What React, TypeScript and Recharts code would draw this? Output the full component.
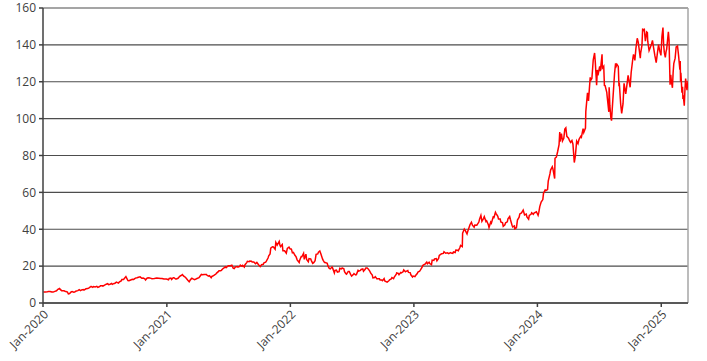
import React from "react";
import { LineChart, Line, XAxis, YAxis, CartesianGrid, ReferenceLine } from "recharts";

const dates: string[] = [
  "2020-01-02","2020-01-08","2020-01-14","2020-01-17","2020-01-22","2020-01-27","2020-01-31","2020-02-05","2020-02-10","2020-02-14","2020-02-19","2020-02-21","2020-02-25","2020-02-28","2020-03-03","2020-03-06","2020-03-11","2020-03-13","2020-03-16","2020-03-18","2020-03-20","2020-03-24","2020-03-27","2020-04-01","2020-04-03","2020-04-08","2020-04-13","2020-04-17","2020-04-21","2020-04-24","2020-04-29","2020-05-01","2020-05-07","2020-05-12","2020-05-15","2020-05-20","2020-05-22","2020-05-27","2020-05-29","2020-06-03","2020-06-08","2020-06-11","2020-06-15","2020-06-19","2020-06-24","2020-06-26","2020-07-01","2020-07-06","2020-07-10","2020-07-13","2020-07-17","2020-07-22","2020-07-24","2020-07-29","2020-07-31","2020-08-05","2020-08-11","2020-08-14","2020-08-19","2020-08-21","2020-08-26","2020-09-02","2020-09-08","2020-09-11","2020-09-16","2020-09-21","2020-09-25","2020-09-30","2020-10-05","2020-10-09","2020-10-14","2020-10-19","2020-10-23","2020-10-28","2020-10-30","2020-11-04","2020-11-09","2020-11-13","2020-11-18","2020-11-25","2020-12-02","2020-12-08","2020-12-14","2020-12-18","2020-12-23","2020-12-31",
  "2021-01-06","2021-01-08","2021-01-13","2021-01-15","2021-01-20","2021-01-22","2021-01-27","2021-01-29","2021-02-03","2021-02-08","2021-02-12","2021-02-16","2021-02-19","2021-02-23","2021-02-26","2021-03-04","2021-03-08","2021-03-12","2021-03-16","2021-03-19","2021-03-24","2021-03-26","2021-03-31","2021-04-06","2021-04-09","2021-04-13","2021-04-16","2021-04-21","2021-04-23","2021-04-28","2021-04-30","2021-05-05","2021-05-07","2021-05-12","2021-05-14","2021-05-19","2021-05-21","2021-05-26","2021-05-28","2021-06-02","2021-06-04","2021-06-09","2021-06-11","2021-06-16","2021-06-18","2021-06-23","2021-06-25","2021-06-30","2021-07-02","2021-07-08","2021-07-12","2021-07-16","2021-07-19","2021-07-23","2021-07-28","2021-07-30","2021-08-04","2021-08-06","2021-08-11","2021-08-13","2021-08-18","2021-08-20","2021-08-25","2021-08-27","2021-09-01","2021-09-03","2021-09-08","2021-09-10","2021-09-15","2021-09-20","2021-09-24","2021-09-29","2021-10-04","2021-10-08","2021-10-13","2021-10-15","2021-10-20","2021-10-22","2021-10-27","2021-10-29","2021-11-02","2021-11-04","2021-11-09","2021-11-12","2021-11-17","2021-11-19","2021-11-23","2021-11-29","2021-12-01","2021-12-03","2021-12-08","2021-12-10","2021-12-15","2021-12-17","2021-12-20","2021-12-23","2021-12-28","2021-12-31",
  "2022-01-04","2022-01-07","2022-01-10","2022-01-14","2022-01-18","2022-01-21","2022-01-27","2022-01-28","2022-02-02","2022-02-04","2022-02-09","2022-02-11","2022-02-16","2022-02-18","2022-02-23","2022-02-25","2022-03-02","2022-03-04","2022-03-08","2022-03-11","2022-03-15","2022-03-18","2022-03-23","2022-03-25","2022-03-29","2022-04-01","2022-04-06","2022-04-08","2022-04-12","2022-04-14","2022-04-20","2022-04-22","2022-04-26","2022-04-29","2022-05-04","2022-05-06","2022-05-11","2022-05-13","2022-05-17","2022-05-20","2022-05-25","2022-05-27","2022-06-01","2022-06-03","2022-06-08","2022-06-10","2022-06-14","2022-06-16","2022-06-21","2022-06-24","2022-06-28","2022-07-01","2022-07-06","2022-07-08","2022-07-13","2022-07-15","2022-07-20","2022-07-22","2022-07-27","2022-07-29","2022-08-03","2022-08-05","2022-08-10","2022-08-12","2022-08-16","2022-08-19","2022-08-24","2022-08-26","2022-08-31","2022-09-02","2022-09-07","2022-09-09","2022-09-14","2022-09-16","2022-09-21","2022-09-23","2022-09-28","2022-09-30","2022-10-05","2022-10-07","2022-10-12","2022-10-14","2022-10-19","2022-10-21","2022-10-26","2022-10-28","2022-11-02","2022-11-04","2022-11-10","2022-11-11","2022-11-16","2022-11-18","2022-11-23","2022-11-25","2022-11-30","2022-12-02","2022-12-07","2022-12-09","2022-12-14","2022-12-16","2022-12-21","2022-12-23","2022-12-28","2022-12-30",
  "2023-01-04","2023-01-06","2023-01-11","2023-01-13","2023-01-18","2023-01-20","2023-01-25","2023-01-27","2023-02-01","2023-02-03","2023-02-08","2023-02-10","2023-02-15","2023-02-17","2023-02-22","2023-02-24","2023-03-01","2023-03-03","2023-03-08","2023-03-10","2023-03-15","2023-03-17","2023-03-22","2023-03-24","2023-03-29","2023-03-31","2023-04-05","2023-04-10","2023-04-14","2023-04-19","2023-04-21","2023-04-26","2023-04-28","2023-05-03","2023-05-05","2023-05-10","2023-05-12","2023-05-17","2023-05-19","2023-05-24","2023-05-25","2023-05-30","2023-06-02","2023-06-07","2023-06-09","2023-06-13","2023-06-16","2023-06-20","2023-06-23","2023-06-28","2023-06-30","2023-07-06","2023-07-07","2023-07-12","2023-07-14","2023-07-18","2023-07-21","2023-07-26","2023-07-28","2023-08-02","2023-08-04","2023-08-09","2023-08-11","2023-08-16","2023-08-18","2023-08-24","2023-08-25","2023-08-30","2023-09-01","2023-09-06","2023-09-08","2023-09-13","2023-09-15","2023-09-20","2023-09-22","2023-09-27","2023-09-29","2023-10-04","2023-10-06","2023-10-11","2023-10-13","2023-10-18","2023-10-20","2023-10-25","2023-10-26","2023-10-31","2023-11-03","2023-11-08","2023-11-10","2023-11-15","2023-11-20","2023-11-24","2023-11-29","2023-12-01","2023-12-06","2023-12-08","2023-12-13","2023-12-15","2023-12-20","2023-12-22","2023-12-29",
  "2024-01-03","2024-01-05","2024-01-08","2024-01-12","2024-01-17","2024-01-19","2024-01-24","2024-01-26","2024-01-31","2024-02-02","2024-02-07","2024-02-09","2024-02-14","2024-02-16","2024-02-21","2024-02-22","2024-02-26","2024-03-01","2024-03-05","2024-03-07","2024-03-08","2024-03-12","2024-03-15","2024-03-19","2024-03-22","2024-03-25","2024-03-28","2024-04-02","2024-04-05","2024-04-08","2024-04-12","2024-04-15","2024-04-19","2024-04-22","2024-04-26","2024-04-30","2024-05-03","2024-05-08","2024-05-10","2024-05-15","2024-05-17","2024-05-22","2024-05-23","2024-05-28","2024-05-31","2024-06-05","2024-06-07","2024-06-10","2024-06-14","2024-06-18","2024-06-20","2024-06-24","2024-06-26","2024-06-28","2024-07-03","2024-07-05","2024-07-10","2024-07-11","2024-07-15","2024-07-17","2024-07-19","2024-07-24","2024-07-25","2024-07-30","2024-07-31","2024-08-02","2024-08-05","2024-08-07","2024-08-09","2024-08-13","2024-08-16","2024-08-19","2024-08-21","2024-08-23","2024-08-27","2024-08-29","2024-08-30","2024-09-03","2024-09-06","2024-09-10","2024-09-13","2024-09-18","2024-09-20","2024-09-25","2024-09-27","2024-10-01","2024-10-04","2024-10-09","2024-10-11","2024-10-15","2024-10-18","2024-10-22","2024-10-25","2024-10-31","2024-11-01","2024-11-05","2024-11-07","2024-11-08","2024-11-12","2024-11-15","2024-11-19","2024-11-21","2024-11-22","2024-11-26","2024-11-29","2024-12-03","2024-12-06","2024-12-09","2024-12-13","2024-12-17","2024-12-20","2024-12-24","2024-12-27","2024-12-31",
  "2025-01-03","2025-01-06","2025-01-08","2025-01-10","2025-01-13","2025-01-15","2025-01-17","2025-01-22","2025-01-24","2025-01-27","2025-01-29","2025-01-31","2025-02-03","2025-02-05","2025-02-07","2025-02-11","2025-02-14","2025-02-18","2025-02-21","2025-02-25","2025-02-26","2025-02-27","2025-02-28","2025-03-03","2025-03-05","2025-03-06","2025-03-07","2025-03-10","2025-03-12","2025-03-14","2025-03-18","2025-03-19","2025-03-20","2025-03-21"
];

const prices: number[] = [
  5.99,6.03,6.14,6.26,6.22,5.93,5.91,6.3,6.6,7.4,7.85,7.38,6.7,6.7,6.6,6.38,6.1,6.0,4.9,4.97,5.17,6.0,6.2,5.8,5.9,6.5,6.7,7.2,6.7,7.08,7.3,7.0,7.7,7.8,8.1,8.7,9.0,8.5,8.9,8.7,9.0,8.5,8.8,9.3,9.3,9.1,9.7,10.2,10.5,10.0,10.2,10.6,10.1,10.6,10.6,11.3,10.8,11.5,12.0,12.7,12.7,14.3,12.2,12.1,12.5,12.9,12.8,13.5,13.7,14.0,14.2,13.4,13.5,13.1,12.5,13.6,13.7,13.5,13.2,13.3,13.5,13.4,13.3,13.3,13.0,13.05,
  12.6,13.3,13.5,12.8,13.7,13.7,13.0,13.0,13.4,14.5,14.9,15.4,14.7,14.2,13.7,12.3,11.55,12.7,13.4,13.1,12.6,12.8,13.3,13.7,14.5,15.5,15.3,15.5,15.5,15.5,15.0,14.6,14.8,13.7,14.4,14.8,15.1,15.7,16.2,17.0,17.5,17.5,17.7,18.7,18.9,19.6,19.2,20.0,20.2,20.2,20.5,18.9,18.7,19.6,19.8,19.5,19.8,20.5,19.9,20.4,19.5,20.8,21.9,22.6,22.4,22.8,22.7,22.3,22.3,21.3,22.0,20.8,19.8,20.8,21.0,21.8,22.2,22.7,24.4,25.6,26.6,29.8,30.5,30.4,29.2,32.9,31.4,33.4,31.4,30.6,31.7,28.3,28.3,27.8,27.0,29.6,30.3,29.4,
  29.2,27.2,27.4,26.0,25.0,23.4,22.0,22.9,25.2,25.1,26.9,23.7,26.5,23.6,22.4,24.1,23.9,23.0,21.5,21.9,22.9,26.4,26.6,27.6,28.2,26.7,23.9,23.1,21.9,21.9,21.5,20.1,18.8,18.5,19.5,18.9,16.3,17.7,17.8,16.7,17.0,18.8,18.5,19.0,18.6,17.0,15.9,15.6,17.1,17.1,15.5,14.6,15.4,15.9,15.2,15.4,17.7,17.3,17.7,18.2,18.5,17.2,18.3,19.0,19.0,18.5,17.2,16.3,15.1,13.6,13.8,14.3,13.1,13.2,13.2,12.5,12.5,12.1,13.2,12.0,11.5,11.3,12.1,12.5,13.0,13.8,13.2,14.1,15.7,16.3,16.0,15.4,16.5,16.3,16.9,17.9,16.9,17.2,17.6,16.6,16.5,15.3,14.1,14.6,
  14.3,14.9,16.0,16.8,17.3,17.8,19.3,20.3,20.9,21.1,22.2,21.3,22.1,21.4,20.8,23.3,23.1,23.9,24.1,22.9,24.2,25.8,26.5,26.7,26.9,27.8,27.0,27.2,26.8,27.3,27.1,26.9,27.7,27.4,28.7,28.6,28.3,30.1,31.2,30.6,37.9,40.1,39.3,37.5,38.8,41.0,42.6,43.8,42.2,41.1,42.3,42.2,42.5,43.9,45.5,47.5,44.3,45.9,46.8,44.2,44.6,42.5,40.9,43.9,43.3,47.1,46.0,49.2,48.5,47.0,45.5,45.5,43.9,43.5,41.6,42.4,43.5,44.0,45.7,46.9,45.4,42.2,41.3,41.8,40.3,40.8,45.0,46.5,48.3,48.9,50.4,47.8,48.2,46.7,45.5,47.5,48.1,48.9,48.1,48.8,49.5,
  47.6,49.0,52.3,54.7,56.1,59.5,61.3,61.0,61.5,66.1,70.0,72.1,73.9,72.6,67.5,78.5,79.1,82.3,85.9,92.7,87.5,91.9,87.9,89.4,94.3,95.0,90.4,89.4,88.0,87.1,88.1,86.1,76.2,79.5,87.8,86.4,88.8,90.4,89.9,94.6,92.5,94.9,103.8,114.0,109.6,122.4,120.9,121.8,131.9,135.6,130.8,118.1,126.4,123.5,128.3,125.8,134.9,127.4,128.4,118.0,117.9,114.3,112.3,103.7,117.0,107.3,100.5,98.9,104.8,116.1,124.6,130.0,128.5,129.4,128.3,117.6,119.4,108.0,102.8,108.1,119.1,113.4,116.0,123.5,121.4,117.0,124.9,132.6,134.8,131.6,138.0,143.6,141.5,132.8,135.4,139.9,148.9,147.6,148.3,142.0,147.0,146.7,142.0,136.9,138.3,140.3,142.4,138.8,134.3,130.4,134.7,140.2,137.0,134.3,
  144.5,149.4,140.1,135.9,133.2,136.2,137.7,147.1,142.6,118.4,123.7,120.1,116.7,124.8,129.8,132.8,138.9,139.4,134.4,126.6,131.3,120.2,124.9,114.1,117.3,110.6,112.7,107.0,115.7,121.7,115.4,117.5,118.5,120.5
];

const yearTicks: string[] = ["2020-01-01","2021-01-01","2022-01-01","2023-01-01","2024-01-01","2025-01-01"];
const yTicks: number[] = [0, 20, 40, 60, 80, 100, 120, 140, 160];
const domainStart = "2020-01-01";
const domainEnd = "2025-03-21";

const toT = (s: string) => Date.parse(s + "T00:00:00Z");
const data = dates.map((d, i) => ({ t: toT(d), v: prices[i] }));
const MONTHS = ["Jan","Feb","Mar","Apr","May","Jun","Jul","Aug","Sep","Oct","Nov","Dec"];
const fmt = (t: number) => {
  const d = new Date(t);
  return `${MONTHS[d.getUTCMonth()]}-${d.getUTCFullYear()}`;
};

export default function App() {
  const tickStyle = { fontFamily: "'Open Sans', sans-serif", fontSize: 12, fill: "#404040" };
  return (
    <div>
      <style>{"body{margin:0}"}</style>
      <LineChart width={707} height={361} data={data} margin={{ top: 8, right: 19, left: 1, bottom: 8 }}>
        <CartesianGrid vertical={false} stroke="#4d4d4d" strokeWidth={1.2} />
        <XAxis
          dataKey="t"
          type="number"
          scale="linear"
          domain={[toT(domainStart), toT(domainEnd)]}
          ticks={yearTicks.map(toT)}
          tickFormatter={fmt}
          angle={-45}
          textAnchor="end"
          height={50}
          tickSize={4}
          tickMargin={2}
          stroke="#404040"
          strokeWidth={1.5}
          tick={tickStyle}
          allowDataOverflow
        />
        <YAxis
          domain={[0, 160]}
          ticks={yTicks}
          width={42}
          tickSize={4}
          tickMargin={3}
          stroke="#404040"
          strokeWidth={1.5}
          tick={tickStyle}
          interval={0}
        />
        <ReferenceLine y={160} stroke="#a6a6a6" strokeWidth={1.5} />
        <ReferenceLine x={toT(domainEnd)} stroke="#a6a6a6" strokeWidth={1.5} />
        <Line
          type="linear"
          dataKey="v"
          stroke="#ff0000"
          strokeWidth={1.5}
          dot={false}
          isAnimationActive={false}
        />
      </LineChart>
    </div>
  );
}
